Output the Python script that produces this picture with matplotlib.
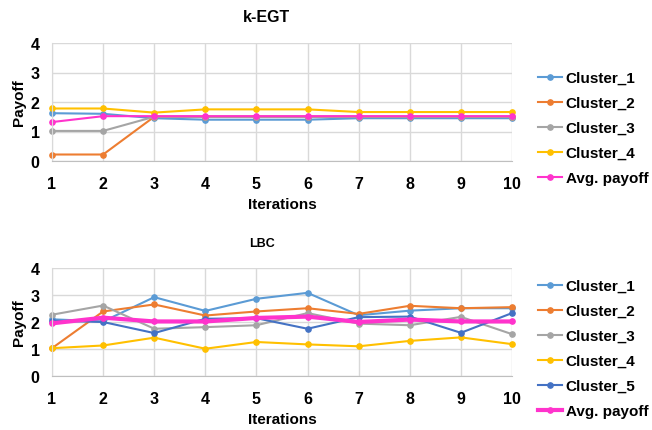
import matplotlib
matplotlib.use("Agg")
import matplotlib.pyplot as plt

plt.rcParams['font.family'] = ['Liberation Sans', 'DejaVu Sans']

iterations = [1, 2, 3, 4, 5, 6, 7, 8, 9, 10]

# k-EGT
kegt_cluster_1 = [1.62, 1.60, 1.45, 1.40, 1.40, 1.40, 1.45, 1.45, 1.45, 1.45]
kegt_cluster_2 = [0.22, 0.22, 1.50, 1.50, 1.50, 1.50, 1.50, 1.50, 1.50, 1.50]
kegt_cluster_3 = [1.02, 1.02, 1.50, 1.50, 1.50, 1.50, 1.50, 1.50, 1.50, 1.50]
kegt_cluster_4 = [1.78, 1.78, 1.64, 1.75, 1.75, 1.75, 1.66, 1.66, 1.66, 1.66]
kegt_avg = [1.32, 1.52, 1.52, 1.52, 1.52, 1.52, 1.52, 1.52, 1.52, 1.52]

# LBC
lbc_cluster_1 = [2.10, 2.02, 2.92, 2.41, 2.86, 3.08, 2.25, 2.42, 2.51, 2.51]
lbc_cluster_2 = [1.03, 2.39, 2.65, 2.24, 2.39, 2.51, 2.30, 2.60, 2.51, 2.55]
lbc_cluster_3 = [2.27, 2.61, 1.75, 1.81, 1.88, 2.33, 1.94, 1.88, 2.19, 1.55]
lbc_cluster_4 = [1.03, 1.13, 1.42, 1.01, 1.26, 1.17, 1.10, 1.30, 1.43, 1.18]
lbc_cluster_5 = [2.05, 2.00, 1.59, 2.12, 2.14, 1.75, 2.18, 2.20, 1.60, 2.33]
lbc_avg = [1.95, 2.16, 2.02, 2.02, 2.15, 2.20, 2.00, 2.09, 2.02, 2.02]

yticks = [0, 1, 2, 3, 4]

C1, C2, C3, C4, C5, AVG = '#5B9BD5', '#ED7D31', '#A5A5A5', '#FFC000', '#4472C4', '#FF33CC'

W, H = 652, 431
fig = plt.figure(figsize=(W / 100, H / 100), dpi=100)


def px_axes(left, top, right, bottom):
    return fig.add_axes([left / W, 1 - bottom / H, (right - left) / W, (bottom - top) / H])


def style(ax):
    ax.set_xlim(1, 10)
    ax.set_ylim(0, 4)
    ax.set_xticks(iterations)
    ax.set_yticks(yticks)
    ax.grid(True, color='#d9d9d9', lw=1)
    ax.set_axisbelow(True)
    for s in ['top', 'right']:
        ax.spines[s].set_visible(False)
    ax.spines['left'].set_color('#d9d9d9')
    ax.spines['bottom'].set_color('#bfbfbf')
    ax.tick_params(axis='x', length=0, labelsize=11.5, pad=11)
    ax.tick_params(axis='y', length=0, labelsize=11.5, pad=9)
    for lab in ax.get_xticklabels() + ax.get_yticklabels():
        lab.set_fontweight('bold')
    ax.set_xlabel('Iterations', fontsize=11, fontweight='bold', labelpad=4)
    ax.set_ylabel('Payoff', fontsize=11, fontweight='bold', labelpad=3)


ms = 3.8
leg_kw = dict(loc='upper left', bbox_transform=fig.transFigure, frameon=False,
              handlelength=1.6, handletextpad=0.2, labelspacing=0.72,
              borderaxespad=0, borderpad=0, prop={'weight': 'bold', 'size': 11})

ax1 = px_axes(52, 44, 512, 162)
series1 = [(kegt_cluster_1, 'Cluster_1', C1, 1.5), (kegt_cluster_2, 'Cluster_2', C2, 1.5),
           (kegt_cluster_3, 'Cluster_3', C3, 1.5), (kegt_cluster_4, 'Cluster_4', C4, 1.5),
           (kegt_avg, 'Avg. payoff', AVG, 1.5)]
for vals, lab, col, lw in series1:
    ax1.plot(iterations, vals, color=col, lw=lw, marker='o', ms=ms, label=lab, clip_on=False)
style(ax1)
ax1.legend(bbox_to_anchor=(538 / W, 1 - 72 / H), **leg_kw)

ax2 = px_axes(52, 269, 512, 377)
series2 = [(lbc_cluster_1, 'Cluster_1', C1, 1.5), (lbc_cluster_2, 'Cluster_2', C2, 1.5),
           (lbc_cluster_3, 'Cluster_3', C3, 1.5), (lbc_cluster_4, 'Cluster_4', C4, 1.5),
           (lbc_cluster_5, 'Cluster_5', C5, 1.5), (lbc_avg, 'Avg. payoff', AVG, 3)]
for vals, lab, col, lw in series2:
    ax2.plot(iterations, vals, color=col, lw=lw, marker='o', ms=ms, label=lab, clip_on=False)
style(ax2)
ax2.legend(bbox_to_anchor=(538 / W, 1 - 280 / H), **leg_kw)

fig.text(266 / W, 1 - 18 / H, 'k-EGT', ha='center', va='center', fontsize=11.5, fontweight='bold')
fig.text(262 / W, 1 - 244 / H, 'LBC', ha='center', va='center', fontsize=9, fontweight='bold')

fig.savefig('out.png', dpi=100)
